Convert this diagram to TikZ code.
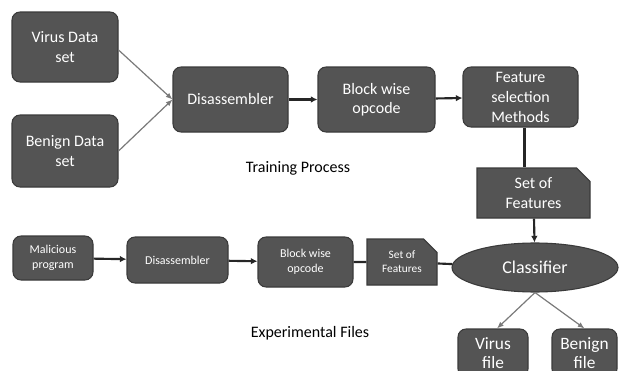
\documentclass[tikz,border=0pt]{standalone}
\usepackage{fontspec}
\setmainfont{Carlito}
\usetikzlibrary{shapes.geometric,shapes.misc,arrows.meta}
\definecolor{boxgray}{HTML}{545454}
\definecolor{edgegray}{HTML}{3A3A3A}
\definecolor{linkgray}{HTML}{7A7A7A}
\tikzset{
  stage/.style={draw=edgegray,fill=boxgray,rounded corners=6pt,text=white,align=center,inner sep=0pt,line width=0.8pt},
  featbox/.style={draw=edgegray,fill=boxgray,chamfered rectangle,chamfered rectangle corners=north east,chamfered rectangle xsep=5pt,chamfered rectangle ysep=5pt,text=white,align=center,inner sep=0pt,line width=0.8pt},
  big/.style={font=\fontsize{12}{14.5}\selectfont},
  small/.style={font=\fontsize{9}{11}\selectfont},
  thinlink/.style={draw=linkgray,line width=0.9pt,-{Latex[length=5pt,width=4pt]}},
  thicklink/.style={draw=black!85,line width=1.6pt,-{Latex[length=5pt,width=5pt]}},
  thickline/.style={draw=black!85,line width=1.6pt}
}
\begin{document}
\begin{tikzpicture}[x=0.75pt,y=-0.75pt]
    \useasboundingbox (0,0) rectangle (619,371);
    \node[stage,big,minimum width=79.5pt,minimum height=52.5pt] (virus) at (65,47) {Virus Data\\set};
    \node[stage,big,minimum width=79.5pt,minimum height=54pt] (benign) at (65,151) {Benign Data\\set};
    \node[stage,big,minimum width=86.25pt,minimum height=48.75pt] (dis1) at (230.5,99.5) {Disassembler};
    \node[stage,big,minimum width=87.75pt,minimum height=48.75pt] (block1) at (376.5,99.5) {Block wise\\opcode};
    \node[stage,big,minimum width=86.25pt,minimum height=45pt,font=\fontsize{12}{15}\selectfont] (feat) at (520.5,97) {Feature\\selection\\Methods};
    \node[featbox,big,minimum width=84.75pt,minimum height=37.5pt] (set1) at (533.5,193) {Set of\\Features};
    \node[big] (train) at (298,168) {Training Process};
    \node[stage,small,minimum width=60pt,minimum height=33pt] (mal) at (53,258) {Malicious\\program};
    \node[stage,small,minimum width=75.75pt,minimum height=34.5pt] (dis2) at (177.5,260) {Disassembler};
    \node[stage,small,minimum width=71.25pt,minimum height=37.5pt] (block2) at (305.5,262) {Block wise\\opcode};
    \node[featbox,font=\fontsize{8.5}{10.5}\selectfont,minimum width=52.5pt,minimum height=34.5pt] (set2) at (402,262) {Set of\\Features};
    \node[ellipse,draw=edgegray,fill=boxgray,text=white,inner sep=0pt,line width=0.8pt,minimum width=124.5pt,minimum height=36.75pt,font=\fontsize{13.5}{16}\selectfont] (cls) at (535,267.5) {Classifier};
    \node[big] (exp) at (310,333) {Experimental Files};
    \node[stage,font=\fontsize{13}{14.5}\selectfont,minimum width=52.5pt,minimum height=36pt] (vfile) at (493,353) {Virus\\file};
    \node[stage,font=\fontsize{13}{14.5}\selectfont,minimum width=48.75pt,minimum height=36pt] (bfile) at (584.5,353) {Benign\\file};
    \draw[thinlink] (virus.east) ++(0,3) -- (dis1.west);
    \draw[thinlink] (benign.east) -- (dis1.west);
    \draw[thicklink] (dis1) -- (block1);
    \draw[thicklink] (block1) -- (feat);
    \draw[thickline] ([xshift=3pt]feat.south) -- ([xshift=3pt]feat.south |- set1.north);
    \draw[thicklink] (set1) -- (cls);
    \draw[thicklink] (mal) -- (dis2);
    \draw[thicklink] (dis2) -- (block2);
    \draw[thickline] (block2) -- (set2);
    \draw[thickline] (set2) -- (cls);
    \draw[thinlink] (cls.south) -- ([xshift=3pt]vfile.north);
    \draw[thinlink] (cls.south) -- (bfile.north);
\end{tikzpicture}
\end{document}
